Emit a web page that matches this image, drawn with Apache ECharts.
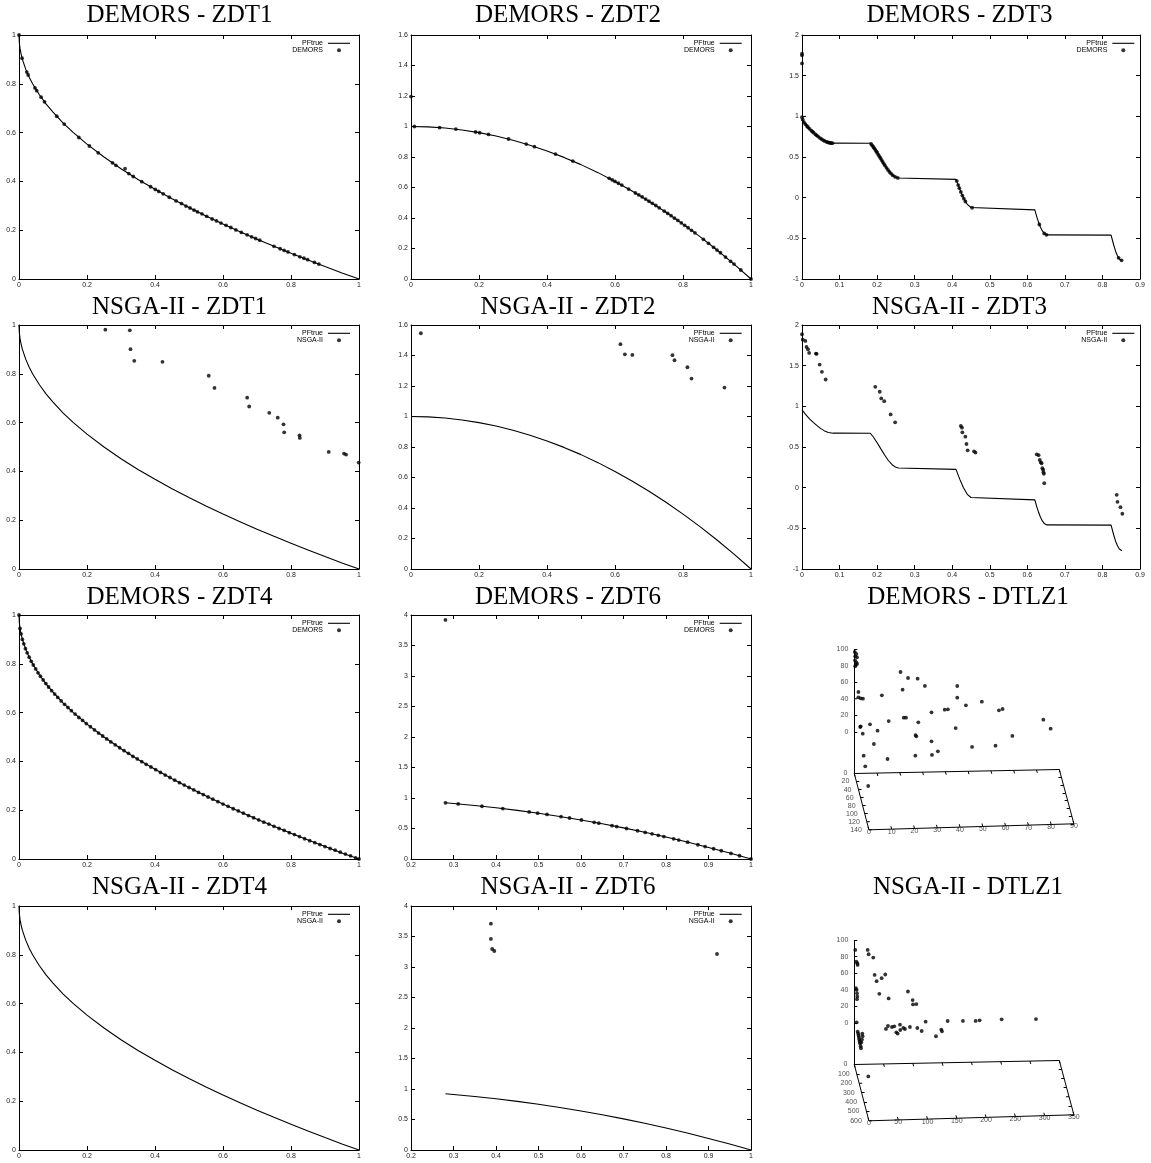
<!DOCTYPE html>
<html><head><meta charset="utf-8">
<script src="https://cdn.jsdelivr.net/npm/echarts@6/dist/echarts.min.js"></script>
<style>html,body{margin:0;padding:0;background:#fff}#c{width:1151px;height:1163px}</style>
</head><body><div id="c"></div>
<script>
// ---------- DATA ----------
const pfZdt1 = [[0,1],[0.001,0.968],[0.003,0.945],[0.006,0.923],[0.01,0.9],[0.02,0.859],[0.03,0.827],[0.04,0.8],[0.06,0.755],[0.08,0.717],[0.1,0.684],[0.13,0.639],[0.16,0.6],[0.2,0.553],[0.25,0.5],[0.3,0.452],[0.35,0.408],[0.4,0.368],[0.45,0.329],[0.5,0.293],[0.55,0.258],[0.6,0.225],[0.65,0.194],[0.7,0.163],[0.75,0.134],[0.8,0.106],[0.85,0.078],[0.9,0.051],[0.95,0.025],[1,0]];
const pfZdt2 = [[0,1],[0.05,0.9975],[0.1,0.99],[0.15,0.9775],[0.2,0.96],[0.25,0.9375],[0.3,0.91],[0.35,0.8775],[0.4,0.84],[0.45,0.7975],[0.5,0.75],[0.55,0.6975],[0.6,0.64],[0.65,0.5775],[0.7,0.51],[0.75,0.4375],[0.8,0.36],[0.85,0.2775],[0.9,0.19],[0.95,0.0975],[1,0]];
const pfZdt3 = [[0,0.955],[0.005,0.928],[0.01,0.897],[0.02,0.847],[0.03,0.803],[0.04,0.762],[0.05,0.726],[0.06,0.698],[0.07,0.679],[0.083,0.67],[0.182,0.669],[0.19,0.623],[0.2,0.553],[0.21,0.477],[0.22,0.402],[0.23,0.334],[0.24,0.282],[0.25,0.25],[0.257,0.242],[0.41,0.225],[0.42,0.105],[0.43,0.0],[0.44,-0.082],[0.45,-0.121],[0.453,-0.127],[0.62,-0.15],[0.625,-0.233],[0.63,-0.303],[0.635,-0.363],[0.64,-0.409],[0.645,-0.44],[0.652,-0.458],[0.823,-0.46],[0.83,-0.582],[0.835,-0.658],[0.84,-0.715],[0.845,-0.754],[0.852,-0.775]];
const pfZdt6 = [[0.281,0.921],[0.3,0.91],[0.35,0.8775],[0.4,0.84],[0.45,0.7975],[0.5,0.75],[0.55,0.6975],[0.6,0.64],[0.65,0.5775],[0.7,0.51],[0.75,0.4375],[0.8,0.36],[0.85,0.2775],[0.9,0.19],[0.95,0.0975],[1,0]];

const demorsZdt1 = [[0,1],[0.009,0.905],[0.023,0.848],[0.027,0.836],[0.047,0.783],[0.052,0.772],[0.065,0.745],[0.075,0.726],[0.111,0.667],[0.133,0.635],[0.176,0.58],[0.207,0.545],[0.233,0.517],[0.275,0.476],[0.285,0.466],[0.312,0.452],[0.323,0.432],[0.336,0.42],[0.361,0.399],[0.387,0.378],[0.401,0.367],[0.411,0.359],[0.424,0.349],[0.442,0.335],[0.462,0.32],[0.478,0.309],[0.491,0.299],[0.503,0.291],[0.515,0.282],[0.525,0.275],[0.538,0.267],[0.552,0.257],[0.568,0.246],[0.581,0.238],[0.594,0.229],[0.609,0.22],[0.623,0.211],[0.638,0.201],[0.654,0.191],[0.671,0.181],[0.684,0.173],[0.696,0.166],[0.708,0.159],[0.75,0.134],[0.768,0.124],[0.78,0.117],[0.791,0.111],[0.81,0.1],[0.826,0.091],[0.838,0.085],[0.849,0.079],[0.869,0.068],[0.882,0.061]];
const demorsZdt2 = [[0,1.196],[0.01,1.0],[0.084,0.993],[0.132,0.983],[0.19,0.964],[0.202,0.959],[0.228,0.948],[0.287,0.918],[0.339,0.885],[0.363,0.868],[0.425,0.819],[0.476,0.773],[0.583,0.66],[0.592,0.65],[0.6,0.64],[0.61,0.628],[0.62,0.616],[0.64,0.59],[0.66,0.564],[0.67,0.551],[0.68,0.538],[0.69,0.524],[0.7,0.51],[0.71,0.496],[0.72,0.482],[0.73,0.467],[0.745,0.445],[0.755,0.43],[0.765,0.415],[0.775,0.399],[0.785,0.384],[0.795,0.368],[0.805,0.352],[0.815,0.336],[0.825,0.319],[0.835,0.303],[0.86,0.26],[0.875,0.234],[0.89,0.208],[0.9,0.19],[0.91,0.172],[0.925,0.144],[0.94,0.116],[0.95,0.098],[0.97,0.059],[1,0]];
const demorsZdt3 = [[0,1.77],[0,1.75],[0,1.65],[0,0.99],[0.002,0.96],[0.005,0.928],[0.009,0.903],[0.013,0.881],[0.016,0.866],[0.02,0.847],[0.025,0.824],[0.028,0.811],[0.031,0.798],[0.036,0.778],[0.039,0.766],[0.043,0.751],[0.048,0.733],[0.052,0.72],[0.056,0.708],[0.06,0.698],[0.065,0.687],[0.068,0.682],[0.072,0.676],[0.075,0.673],[0.078,0.671],[0.081,0.67],
 [0.184,0.66],[0.187,0.642],[0.19,0.623],[0.192,0.61],[0.195,0.589],[0.198,0.568],[0.2,0.553],[0.203,0.53],[0.206,0.508],[0.209,0.485],[0.212,0.462],[0.215,0.439],[0.218,0.416],[0.221,0.394],[0.225,0.367],[0.229,0.34],[0.233,0.317],[0.237,0.296],[0.242,0.274],[0.248,0.255],[0.255,0.243],
 [0.412,0.206],[0.416,0.155],[0.419,0.117],[0.423,0.07],[0.427,0.026],[0.431,-0.013],[0.435,-0.047],[0.453,-0.124],
 [0.632,-0.33],[0.645,-0.44],[0.651,-0.457],[0.843,-0.74],[0.851,-0.77]];
const demorsZdt4 = [[0,1],[0.003,0.945],[0.006,0.923],[0.01,0.9],[0.014,0.882],[0.019,0.862],[0.024,0.845],[0.03,0.827],[0.036,0.81],[0.042,0.795],[0.049,0.779],[0.056,0.763],[0.063,0.749],[0.071,0.734],[0.079,0.719],[0.087,0.705],[0.096,0.69],[0.105,0.676],[0.114,0.662],[0.124,0.648],[0.134,0.634],[0.144,0.621],[0.154,0.608],[0.165,0.594],[0.176,0.58],[0.187,0.568],[0.198,0.555],[0.21,0.542],[0.222,0.529],[0.234,0.516],[0.246,0.504],[0.258,0.492],[0.27,0.48],[0.283,0.468],[0.296,0.456],[0.309,0.444],[0.322,0.433],[0.335,0.421],[0.348,0.41],[0.361,0.399],[0.374,0.388],[0.388,0.377],[0.402,0.366],[0.416,0.355],[0.43,0.344],[0.444,0.334],[0.458,0.323],[0.472,0.313],[0.486,0.303],[0.5,0.293],[0.514,0.283],[0.528,0.273],[0.542,0.264],[0.556,0.254],[0.57,0.245],[0.585,0.235],[0.6,0.225],[0.615,0.216],[0.63,0.206],[0.645,0.197],[0.66,0.188],[0.675,0.178],[0.69,0.169],[0.705,0.16],[0.72,0.151],[0.735,0.143],[0.75,0.134],[0.765,0.125],[0.78,0.117],[0.795,0.108],[0.81,0.1],[0.825,0.092],[0.84,0.083],[0.855,0.075],[0.87,0.067],[0.885,0.059],[0.9,0.051],[0.915,0.043],[0.93,0.036],[0.945,0.028],[0.96,0.02],[0.975,0.013],[0.99,0.005],[1,0]];
const demorsZdt6 = [[0.281,3.92],[0.281,0.921],[0.311,0.903],[0.367,0.865],[0.416,0.827],[0.478,0.772],[0.498,0.752],[0.52,0.73],[0.553,0.694],[0.573,0.672],[0.601,0.639],[0.631,0.602],[0.642,0.588],[0.673,0.547],[0.684,0.532],[0.707,0.5],[0.733,0.463],[0.751,0.436],[0.767,0.412],[0.782,0.388],[0.795,0.368],[0.818,0.331],[0.83,0.311],[0.851,0.276],[0.875,0.234],[0.892,0.204],[0.912,0.168],[0.93,0.135],[0.953,0.092],[0.973,0.053],[1,0]];

const nsgaZdt1 = [[0.254,0.981],[0.326,0.978],[0.328,0.901],[0.339,0.853],[0.422,0.849],[0.558,0.792],[0.575,0.742],[0.671,0.702],[0.677,0.666],[0.736,0.64],[0.761,0.62],[0.778,0.593],[0.78,0.56],[0.825,0.548],[0.826,0.537],[0.911,0.48],[0.956,0.473],[0.962,0.469],[0.999,0.436]];
const nsgaZdt2 = [[0.029,1.546],[0.616,1.474],[0.629,1.408],[0.651,1.404],[0.769,1.402],[0.775,1.369],[0.813,1.323],[0.825,1.249],[0.922,1.19]];
const nsgaZdt3 = [[0,1.886],[0.002,1.82],[0.009,1.804],[0.012,1.73],[0.016,1.702],[0.019,1.657],[0.037,1.649],[0.039,1.645],[0.047,1.514],[0.053,1.424],[0.063,1.33],
 [0.195,1.24],[0.207,1.179],[0.211,1.097],[0.219,1.064],[0.236,0.901],[0.248,0.803],
 [0.423,0.758],[0.426,0.737],[0.427,0.68],[0.435,0.627],[0.438,0.537],[0.441,0.459],[0.458,0.447],[0.462,0.431],
 [0.625,0.41],[0.63,0.4],[0.633,0.34],[0.636,0.31],[0.638,0.3],[0.64,0.24],[0.642,0.22],[0.643,0.19],[0.644,0.17],[0.645,0.055],
 [0.838,-0.088],[0.84,-0.174],[0.848,-0.24],[0.853,-0.321]];
const nsgaZdt4 = [];
const nsgaZdt6 = [[0.388,3.71],[0.388,3.46],[0.391,3.295],[0.396,3.262],[0.92,3.213]];

// DTLZ1 points as [f1, f2, f3] read on the back plane of the 3-D box
const demorsDtlz1 = [[0.2,0,96.4],[0.9,0,93.9],[0.4,0,91.2],[1.2,0,89.9],[0.3,0,86.3],[0.9,0,83.9],[0.6,0,81.1],[1.2,0,81.9],[0.4,0,79.1],[1.8,0,48.1],[1.8,0,41.7],[2.8,0,40.4],[3.8,0,40.0],[12.1,0,43.5],[2.8,0,6.7],[2.6,0,5.9],[3.7,0,-2.2],[6.9,0,8.9],[10.2,0,1.1],[8.6,0,-14.9],[4.1,0,-28.7],[4.8,0,-41.6],[6.1,0,-65.4],[15.1,0,12.4],[14.6,0,-33.3],[20.3,0,71.2],[23.6,0,63.8],[27.8,0,62.8],[21.2,0,49.9],[31.0,0,53.8],[21.7,0,16.1],[22.7,0,16.1],[28.1,0,10.1],[26.9,0,-5.1],[27.2,0,-6.7],[33.9,0,21.9],[33.9,0,-13.1],[26.8,0,-29.9],[34.1,0,-29.5],[36.7,0,-25.3],[39.7,0,24.8],[41.1,0,25.1],[45.2,0,53.0],[45.2,0,38.9],[44.5,0,2.4],[49.0,0,29.5],[51.7,0,-20.8],[56.0,0,33.5],[62.0,0,-19.8],[63.5,0,22.7],[65.1,0,24.2],[69.4,0,-8.5],[83.0,0,10.4],[86.2,0,-0.6]];
const nsgaDtlz1 = [[1.7,0,88.0],[3.4,0,74.0],[5.1,0,71.9],[5.7,0,69.9],[2.8,0,42.0],[4.0,0,39.9],[4.6,0,35.9],[5.1,0,31.9],[4.6,0,28.7],[4.0,0,0.7],[5.7,0,-10.5],[6.8,0,-12.9],[7.4,0,-15.3],[8.0,0,-17.7],[8.5,0,-20.1],[9.1,0,-22.5],[9.7,0,-24.9],[10.8,0,-28.1],[11.4,0,-30.6],[13.7,0,-13.0],[14.2,0,-16.2],[13.1,0,-20.2],[12.0,0,-23.4],[22.8,0,87.7],[24.5,0,82.5],[32.4,0,78.4],[34.7,0,57.5],[38.1,0,49.9],[46.7,0,53.4],[52.9,0,57.7],[42.7,0,34.6],[58.6,0,28.8],[54.1,0,-7.9],[57.5,0,-4.4],[64.3,0,-5.7],[68.3,0,-4.9],[71.7,0,-12.2],[74.0,0,-13.8],[78.0,0,-3.1],[78.5,0,-9.5],[83.7,0,-7.1],[86.5,0,-8.4],[91.6,0,36.7],[99.6,0,26.2],[100.2,0,21.0],[105.9,0,21.3],[95.0,0,-6.1],[107.6,0,-7.5],[115.0,0,-11.2],[121.8,0,-0.1],[139.4,0,-17.9],[148.5,0,-10.0],[149.7,0,-12.1],[159.4,0,0.2],[185.5,0,-0.1],[207.2,0,-0.4],[214.0,0,0.3],[251.6,0,1.0],[310.2,0,0.5],[23.9,0,-64.7]];

const demorsDtlzXTicks = [0,10,20,30,40,50,60,70,80,90];
const demorsDtlzYTicks = [0,20,40,60,80,100,120,140];
const nsgaDtlzXTicks = [0,50,100,150,200,250,300,350];
const nsgaDtlzYTicks = [0,100,200,300,400,500,600];
const dtlzZTicks = [0,20,40,60,80,100];

// ---------- LAYOUT ----------
const colLeft = [19, 411, 802], colWidth = [340, 340, 338];
const rowTop = [35, 325, 615, 906], plotH = 244;
const titleX = [179.5, 568, 959.5];
const titleY = [15.3, 307.5, 597.5, 887];
const legendRight = [801, 409.3, 16.7];
const FONT = 'Liberation Sans';
const TFONT = 'Liberation Serif';
const LINE_ICON = 'path://M0,0L100,0L100,5L0,5Z';

const panels2d = [
  {t:'DEMORS - ZDT1', c:0, r:0, xr:[0,1,0.2], yr:[0,1,0.2], pf:pfZdt1, pts:demorsZdt1, alg:'DEMORS'},
  {t:'DEMORS - ZDT2', c:1, r:0, xr:[0,1,0.2], yr:[0,1.6,0.2], pf:pfZdt2, pts:demorsZdt2, alg:'DEMORS'},
  {t:'DEMORS - ZDT3', c:2, r:0, xr:[0,0.9,0.1], yr:[-1,2,0.5], pf:pfZdt3, pts:demorsZdt3, alg:'DEMORS'},
  {t:'NSGA-II - ZDT1', c:0, r:1, xr:[0,1,0.2], yr:[0,1,0.2], pf:pfZdt1, pts:nsgaZdt1, alg:'NSGA-II'},
  {t:'NSGA-II - ZDT2', c:1, r:1, xr:[0,1,0.2], yr:[0,1.6,0.2], pf:pfZdt2, pts:nsgaZdt2, alg:'NSGA-II'},
  {t:'NSGA-II - ZDT3', c:2, r:1, xr:[0,0.9,0.1], yr:[-1,2,0.5], pf:pfZdt3, pts:nsgaZdt3, alg:'NSGA-II'},
  {t:'DEMORS - ZDT4', c:0, r:2, xr:[0,1,0.2], yr:[0,1,0.2], pf:pfZdt1, pts:demorsZdt4, alg:'DEMORS'},
  {t:'DEMORS - ZDT6', c:1, r:2, xr:[0.2,1,0.1], yr:[0,4,0.5], pf:pfZdt6, pts:demorsZdt6, alg:'DEMORS'},
  {t:'NSGA-II - ZDT4', c:0, r:3, xr:[0,1,0.2], yr:[0,1,0.2], pf:pfZdt1, pts:nsgaZdt4, alg:'NSGA-II'},
  {t:'NSGA-II - ZDT6', c:1, r:3, xr:[0.2,1,0.1], yr:[0,4,0.5], pf:pfZdt6, pts:nsgaZdt6, alg:'NSGA-II'}
];
const panels3d = [
  {t:'DEMORS - DTLZ1', r:2, pts:demorsDtlz1, xt:demorsDtlzXTicks, yt:demorsDtlzYTicks, zt:dtlzZTicks},
  {t:'NSGA-II - DTLZ1', r:3, pts:nsgaDtlz1, xt:nsgaDtlzXTicks, yt:nsgaDtlzYTicks, zt:dtlzZTicks}
];

const grids=[], xAxes=[], yAxes=[], series=[], legends=[], graphics=[];
const labelStyle = {fontSize:7, fontFamily:FONT, color:'#222'};

function titleEl(text, x, y){
  return {type:'text', x:x, y:y, silent:true,
    style:{text:text, fill:'#000', fontSize:25, fontFamily:TFONT, align:'center', verticalAlign:'middle', textAlign:'center', textVerticalAlign:'middle'}};
}
function valAxis(gi, r, pos, showLabel){
  return {type:'value', gridIndex:gi, min:r[0], max:r[1], interval:r[2], position:pos,
    splitLine:{show:false}, minorTick:{show:false},
    axisLine:{show:true, onZero:false, lineStyle:{color:'#000', width:1}},
    axisTick:{show:true, inside:true, length:4, lineStyle:{color:'#000', width:1}},
    axisLabel:Object.assign({show:showLabel, margin:3}, labelStyle)};
}

panels2d.forEach(p=>{
  const gi = grids.length;
  grids.push({left:colLeft[p.c], top:rowTop[p.r], width:colWidth[p.c], height:plotH, containLabel:false, outerBoundsMode:'none'});
  const ai = xAxes.length;
  xAxes.push(valAxis(gi, p.xr, 'bottom', true));
  xAxes.push(valAxis(gi, p.xr, 'top', false));
  yAxes.push(valAxis(gi, p.yr, 'left', true));
  yAxes.push(valAxis(gi, p.yr, 'right', false));
  series.push({type:'line', name:'PFtrue', xAxisIndex:ai, yAxisIndex:ai, data:p.pf, symbol:'none', showSymbol:false,
    lineStyle:{color:'#000', width:1.1}, itemStyle:{color:'#000'}, silent:true, animation:false, z:2});
  series.push({type:'scatter', name:p.alg, xAxisIndex:ai, yAxisIndex:ai, data:p.pts, symbol:'circle', symbolSize:3.8,
    itemStyle:{color:'#000'}, clip:false, silent:true, animation:false, z:3});
  legends.push({data:[{name:'PFtrue', icon:LINE_ICON}, {name:p.alg, icon:'circle'}], orient:'vertical', align:'right',
    right:legendRight[p.c], top:rowTop[p.r]+4.8,
    itemWidth:22, itemHeight:4, itemGap:0, padding:0, selectedMode:false, symbolKeepAspect:true,
    itemStyle:{color:'#000', borderWidth:0},
    textStyle:{fontSize:7, fontFamily:FONT, color:'#000', lineHeight:5}});
  graphics.push(titleEl(p.t, titleX[p.c], titleY[p.r]));
});

panels3d.forEach(p=>{
  const gi = grids.length;
  const gLeft = 790, gTop = rowTop[p.r]-10, W = 320, H = 260;
  grids.push({left:gLeft, top:gTop, width:W, height:H, containLabel:false, outerBoundsMode:'none'});
  const ai = xAxes.length;
  xAxes.push({type:'value', gridIndex:gi, min:0, max:W, show:false});
  yAxes.push({type:'value', gridIndex:gi, min:0, max:H, inverse:true, show:false});
  const xmax = p.xt[p.xt.length-1], ymax = p.yt[p.yt.length-1], zmin = -50, zmax = p.zt[p.zt.length-1];
  const ox = 854.3 - gLeft, oy = rowTop[p.r] + 158.5 - gTop;
  const proj = (x,y,z)=>{ const fx=x/xmax, fy=y/ymax;
    return [ox + fx*205 + fy*14.6, oy - fx*(4+2*fy) + fy*56.3 - (z-zmin)*0.83]; };
  const segs = [];
  segs.push([proj(0,0,zmin), proj(xmax,0,zmin)]);
  segs.push([proj(0,0,zmin), proj(0,ymax,zmin)]);
  segs.push([proj(0,ymax,zmin), proj(xmax,ymax,zmin)]);
  segs.push([proj(xmax,0,zmin), proj(xmax,ymax,zmin)]);
  segs.push([proj(0,0,zmin), proj(0,0,zmax)]);
  const dx = xmax*3/205, dy = ymax*3/56.3;
  p.zt.forEach(z=>segs.push([proj(0,0,z), proj(dx,0,z)]));
  p.xt.forEach(x=>{ segs.push([proj(x,0,zmin), proj(x,dy,zmin)]); segs.push([proj(x,ymax,zmin), proj(x,ymax-dy,zmin)]); });
  p.yt.forEach(y=>{ segs.push([proj(0,y,zmin), proj(dx,y,zmin)]); segs.push([proj(xmax,y,zmin), proj(xmax-dx,y,zmin)]); });
  series.push({type:'lines', coordinateSystem:'cartesian2d', xAxisIndex:ai, yAxisIndex:ai, polyline:false, silent:true, animation:false,
    data:segs.map(s=>({coords:s})), lineStyle:{color:'#000', width:1, opacity:1}, z:1});
  series.push({type:'scatter', xAxisIndex:ai, yAxisIndex:ai, data:p.pts.map(v=>proj(v[0],v[1],v[2])), symbol:'circle', symbolSize:3.8,
    itemStyle:{color:'#000'}, clip:false, silent:true, animation:false, z:3});
  const lab = (pos, dist)=>({show:true, position:pos, distance:dist, formatter:'{b}', fontSize:7, fontFamily:FONT, color:'#222'});
  series.push({type:'scatter', xAxisIndex:ai, yAxisIndex:ai, symbolSize:0, silent:true, animation:false, clip:false,
    data:p.zt.map(z=>({name:String(z), value:proj(0,0,z)})), label:lab('left',6)});
  series.push({type:'scatter', xAxisIndex:ai, yAxisIndex:ai, symbolSize:0, silent:true, animation:false, clip:false,
    data:p.yt.map(y=>({name:String(y), value:proj(0,y,zmin)})), label:lab('left',7)});
  series.push({type:'scatter', xAxisIndex:ai, yAxisIndex:ai, symbolSize:0, silent:true, animation:false, clip:false,
    data:p.xt.map(x=>({name:String(x), value:proj(x,ymax,zmin)})), label:lab('bottom',-1)});
  graphics.push(titleEl(p.t, 968, titleY[p.r]));
});

const chart = echarts.init(document.getElementById('c'), null, {renderer:'canvas', width:1151, height:1163});
chart.setOption({
  animation:false, backgroundColor:'#fff',
  grid:grids, xAxis:xAxes, yAxis:yAxes, series:series, legend:legends,
  graphic:{elements:graphics}
});
</script></body></html>
